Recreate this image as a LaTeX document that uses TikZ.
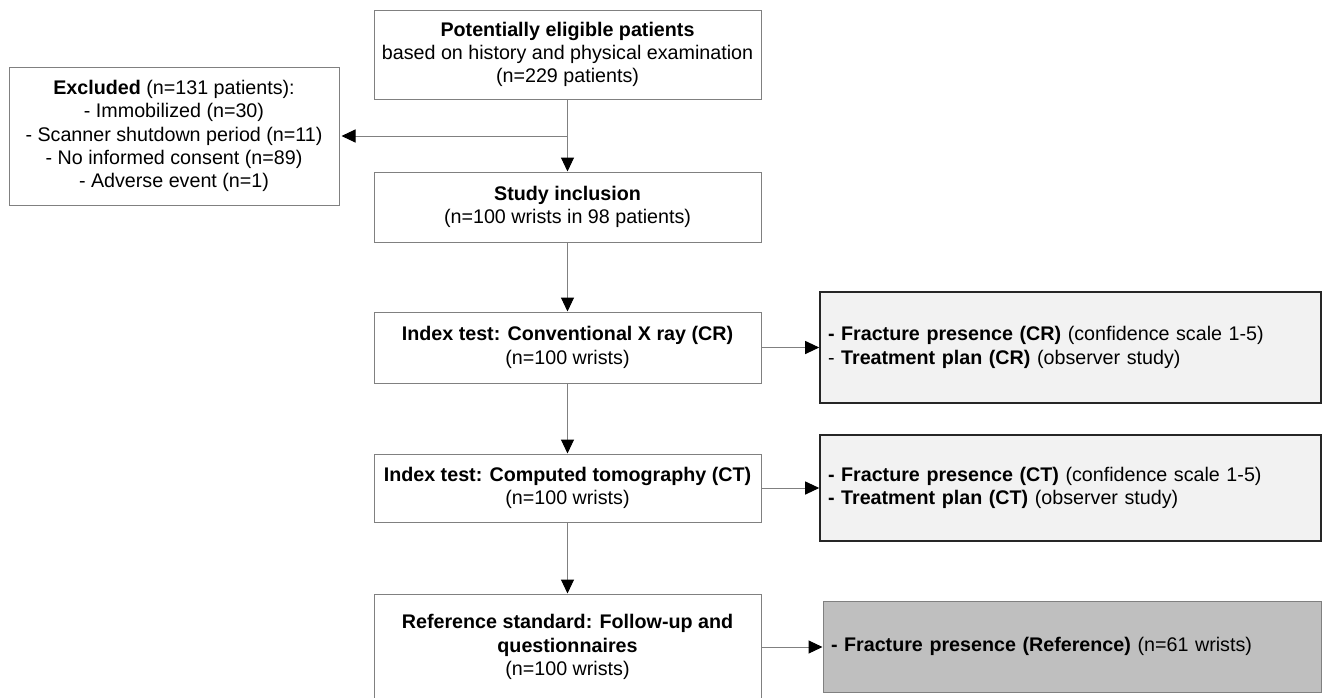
\documentclass[tikz,border=0pt]{standalone}
\usepackage{fontspec}
\setmainfont{Liberation Sans}
\usetikzlibrary{arrows.meta,positioning}
\definecolor{boxline}{gray}{0.50}
\definecolor{outlight}{gray}{0.95}
\definecolor{outdark}{gray}{0.75}
\newcommand{\flowfont}{\fontsize{19.7}{23.3}\selectfont}
\tikzset{stage/.style={draw=boxline,line width=1pt,fill=white,align=center,
           inner sep=0pt,minimum width=387pt,font=\flowfont},
         outbox/.style={draw=black!85,line width=1.6pt,fill=outlight,align=left,
           inner xsep=8pt,inner ysep=0pt,text width=485pt,font=\flowfont},
         link/.style={draw=boxline,line width=1pt,
           -{Triangle[black,length=14pt,width=13pt]}}}

\begin{document}
\begin{tikzpicture}[x=1pt,y=-1pt]
\useasboundingbox (0,0) rectangle (1322,697);
% main column
\node[stage,minimum height=89pt] (elig) at (567.5,54.5)
  {\textbf{Potentially eligible patients}\\based on history and physical examination\\(n=229 patients)};
\node[stage,minimum height=70pt] (incl) at (567.5,207)
  {\textbf{Study inclusion}\\(n=100 wrists in 98 patients)};
\node[stage,minimum width=330pt,minimum height=138pt] (excl) at (174,136)
  {\textbf{Excluded} (n=131 patients):\\- Immobilized (n=30)\\- Scanner shutdown period (n=11)\\- No informed consent (n=89)\\- Adverse event (n=1)};
\node[stage,minimum height=71pt] (xray) at (567.5,347.5)
  {\textbf{Index test: Conventional X ray (CR)}\\(n=100 wrists)};
\node[stage,minimum height=68pt] (ct) at (567.5,488)
  {\textbf{Index test: Computed tomography (CT)}\\(n=100 wrists)};
\node[stage,minimum height=106pt] (refstd) at (567.5,647)
  {\textbf{Reference standard: Follow-up and}\\\textbf{questionnaires}\\(n=100 wrists)};
% outcome boxes
\node[outbox,minimum height=111pt] (xrayout) at (1070.5,347.5)
  {\textbf{- Fracture presence (CR)} (confidence scale 1-5)\\- \textbf{Treatment plan (CR)} (observer study)};
\node[outbox,minimum height=106pt] (ctout) at (1070.5,488)
  {\textbf{- Fracture presence (CT)} (confidence scale 1-5)\\\textbf{- Treatment plan (CT)} (observer study)};
\node[outbox,fill=outdark,draw=boxline,line width=1pt,text width=482pt,
  minimum height=91pt] (refout) at (1072,646.5)
  {\textbf{- Fracture presence (Reference)} (n=61 wrists)};
% connectors
\draw[link] (elig) -- (incl);
\draw[link,shorten >=2pt] (elig.south |- excl.east) -- (excl.east);
\draw[link] (incl) -- (xray);
\draw[link] (xray) -- (ct);
\draw[link] (ct) -- (refstd);
\draw[link] (xray) -- (xrayout);
\draw[link] (ct) -- (ctout);
\draw[link] (refstd.east) -- (refstd.east -| refout.west);
\end{tikzpicture}
\end{document}
